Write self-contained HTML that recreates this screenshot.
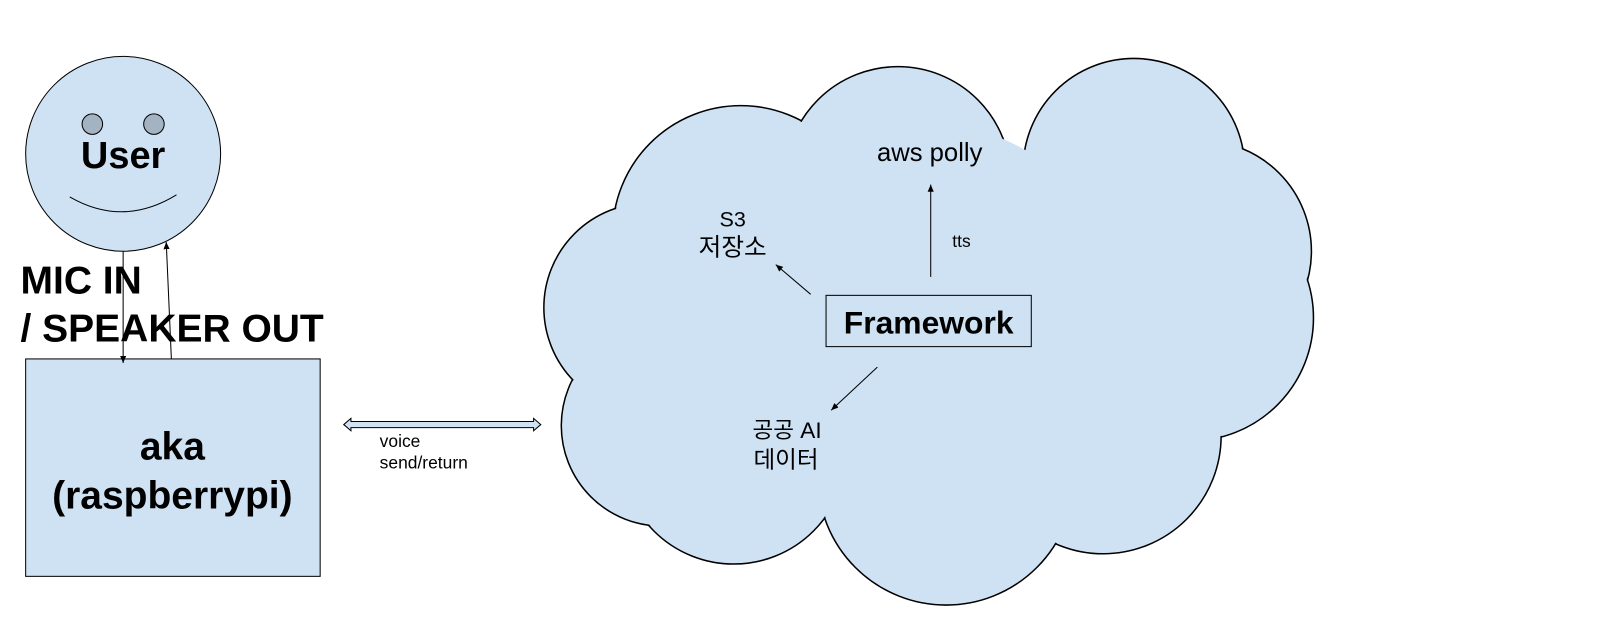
<!DOCTYPE html>
<html><head><meta charset="utf-8"><style>
html,body{margin:0;padding:0;background:#fff;}
svg{display:block}
text{font-family:"Liberation Sans","Noto Sans CJK KR",sans-serif;}
</style></head><body>
<svg width="1609" height="643" viewBox="0 0 1568 627" preserveAspectRatio="none" xmlns="http://www.w3.org/2000/svg">
<defs>
<marker id="ah" markerWidth="8" markerHeight="8" refX="7" refY="4" orient="auto" markerUnits="userSpaceOnUse"><path d="M0,1 L7,4 L0,7 z" fill="#000"/></marker>
</defs>
<g stroke="#000" stroke-width="1.5" fill="#cfe2f3">
<circle cx="722" cy="228" r="125"/>
<circle cx="875" cy="175" r="110"/>
<circle cx="1105" cy="165" r="108"/>
<circle cx="1170" cy="245" r="108"/>
<circle cx="1160" cy="310" r="120"/>
<circle cx="1075" cy="425" r="115"/>
<circle cx="922" cy="465" r="125"/>
<circle cx="715" cy="440" r="110"/>
<circle cx="645" cy="415" r="98"/>
<circle cx="632" cy="300" r="102"/>
</g>
<g fill="#cfe2f3">
<circle cx="722" cy="228" r="124"/>
<circle cx="875" cy="175" r="109"/>
<circle cx="1105" cy="165" r="107"/>
<circle cx="1170" cy="245" r="107"/>
<circle cx="1160" cy="310" r="119"/>
<circle cx="1075" cy="425" r="114"/>
<circle cx="922" cy="465" r="124"/>
<circle cx="715" cy="440" r="109"/>
<circle cx="645" cy="415" r="97"/>
<circle cx="632" cy="300" r="101"/>
<circle cx="900" cy="320" r="200"/>
</g>
<text x="906" y="157" font-size="25" text-anchor="middle">aws polly</text>
<text x="714" y="221" font-size="21" text-anchor="middle">S3</text>
<text x="714" y="249" font-size="24" text-anchor="middle">저장소</text>
<text x="937" y="241" font-size="17" text-anchor="middle">tts</text>
<text x="767" y="427" font-size="22" text-anchor="middle">공공 AI</text>
<text x="766" y="456" font-size="23" text-anchor="middle">데이터</text>
<rect x="805" y="288" width="200" height="50" fill="#cfe2f3" stroke="#000" stroke-width="1"/>
<text x="905" y="325" font-size="31" font-weight="bold" text-anchor="middle">Framework</text>
<line x1="907" y1="270" x2="907" y2="180" stroke="#000" marker-end="url(#ah)"/>
<line x1="790" y1="287" x2="756" y2="258" stroke="#000" marker-end="url(#ah)"/>
<line x1="855" y1="358" x2="810" y2="400" stroke="#000" marker-end="url(#ah)"/>
<circle cx="120" cy="150" r="95" fill="#cfe2f3" stroke="#000" stroke-width="1"/>
<circle cx="90" cy="121" r="10" fill="#a4b3c2" stroke="#000" stroke-width="1"/>
<circle cx="150" cy="121" r="10" fill="#a4b3c2" stroke="#000" stroke-width="1"/>
<path d="M68,192 Q120,222 172,190" fill="none" stroke="#000" stroke-width="1"/>
<text x="120" y="164" font-size="37" font-weight="bold" text-anchor="middle">User</text>
<rect x="25" y="350" width="287" height="212" fill="#cfe2f3" stroke="#000" stroke-width="1"/>
<text x="168" y="448" font-size="38" font-weight="bold" text-anchor="middle">aka</text>
<text x="168" y="496" font-size="38" font-weight="bold" text-anchor="middle">(raspberrypi)</text>
<text x="20" y="286" font-size="38" font-weight="bold">MIC IN</text>
<text x="20" y="333" font-size="38" font-weight="bold">/ SPEAKER OUT</text>
<line x1="120" y1="245" x2="120" y2="354" stroke="#000" marker-end="url(#ah)"/>
<line x1="167" y1="350" x2="162" y2="236" stroke="#000" marker-end="url(#ah)"/>
<path d="M335,414 L342,408 L342,411 L520,411 L520,408 L527,414 L520,420 L520,417 L342,417 L342,420 z" fill="#cfe2f3" stroke="#000" stroke-width="1"/>
<text x="370" y="436" font-size="17">voice</text>
<text x="370" y="457" font-size="17">send/return</text>
</svg>
</body></html>
